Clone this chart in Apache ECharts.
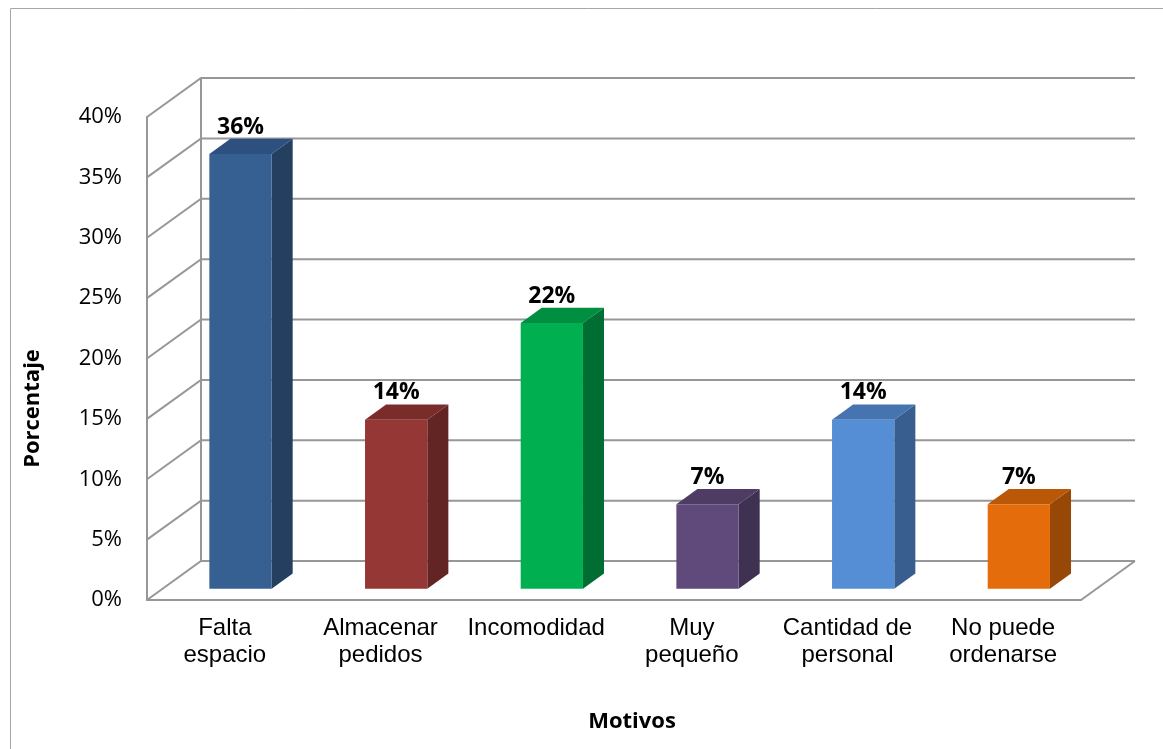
<!DOCTYPE html>
<html>
<head>
<meta charset="utf-8">
<title>Motivos</title>
<script src="https://cdn.jsdelivr.net/npm/echarts@6/dist/echarts.min.js"></script>
<style>
  html, body { margin: 0; padding: 0; background: #ffffff; }
  #chart { width: 1163px; height: 749px; }
</style>
</head>
<body>
<div id="chart"></div>
<script>
// Category names (line breaks as shown under each bar)
const categories = ['Falta\nespacio', 'Almacenar\npedidos', 'Incomodidad', 'Muy\npequeño', 'Cantidad de\npersonal', 'No puede\nordenarse'];
// Share of answers per reason, in percent
const percentages = [36, 14, 22, 7, 14, 7];
// Value-axis ticks (percent)
const yTicks = [0, 5, 10, 15, 20, 25, 30, 35, 40];

// Bar face colours: front, top, side
const frontColors = ['#376092', '#953735', '#00B050', '#604A7B', '#558ED5', '#E46C0A'];
const topColors   = ['#2D5081', '#7A2C2A', '#008E40', '#4E3C65', '#4574B0', '#BA5808'];
const sideColors  = ['#243F60', '#632523', '#006E33', '#3F3151', '#375E8F', '#974806'];

// Oblique projection: screen offset from the front plane to the back wall
const DEPTH = [54, -39];
const D0 = 0.29;    // bar front plane, as a fraction of the depth
const D1 = 0.68;    // bar back plane
const BAR_W = 0.40; // bar width, as a fraction of the category band

const WALL_COLOR = '#979797';

const chart = echarts.init(document.getElementById('chart'), null, { renderer: 'canvas' });

function renderWall(params, api) {
  const cs = params.coordSys;
  const v = api.value(1);
  const y = api.coord([0, v])[1];
  const x0 = cs.x, W = cs.width;
  const dx = DEPTH[0], dy = DEPTH[1];
  const style = { stroke: WALL_COLOR, lineWidth: 2, fill: null };
  const children = [{
    type: 'polyline',
    shape: { points: [[x0, y], [x0 + dx, y + dy], [x0 + W + dx, y + dy]] },
    style: style
  }];
  if (v === 0) {
    // right edge of the floor and the back corner of the side wall
    children.push({ type: 'line', shape: { x1: x0 + W, y1: y, x2: x0 + W + dx, y2: y + dy }, style: style });
    children.push({ type: 'line', shape: { x1: x0 + dx, y1: y + dy, x2: x0 + dx, y2: cs.y + dy }, style: style });
  }
  return { type: 'group', children: children };
}

function renderBar(params, api) {
  const i = api.value(0);
  const v = api.value(1);
  const top = api.coord([i, v]);
  const base = api.coord([i, 0]);
  const band = api.size([1, 0])[0];
  const w = band * BAR_W;
  const fx = top[0] - w / 2 + D0 * DEPTH[0];
  const fy0 = top[1] + D0 * DEPTH[1];
  const fy1 = base[1] + D0 * DEPTH[1];
  const bx = (D1 - D0) * DEPTH[0];
  const by = (D1 - D0) * DEPTH[1];
  return {
    type: 'group',
    children: [
      { type: 'polygon', shape: { points: [[fx + w, fy0], [fx + w + bx, fy0 + by], [fx + w + bx, fy1 + by], [fx + w, fy1]] },
        style: { fill: sideColors[i] } },
      { type: 'polygon', shape: { points: [[fx, fy0], [fx + w, fy0], [fx + w + bx, fy0 + by], [fx + bx, fy0 + by]] },
        style: { fill: topColors[i] } },
      { type: 'rect', shape: { x: fx, y: fy0, width: w, height: fy1 - fy0 },
        style: { fill: frontColors[i] } },
      { type: 'text', x: fx + w / 2, y: fy0 + by,
        style: { text: v + '%', fill: '#000', font: 'bold 23px "Open Sans"', align: 'center', verticalAlign: 'bottom' } }
    ]
  };
}

chart.setOption({
  animation: false,
  backgroundColor: '#ffffff',
  graphic: [{
    type: 'rect',
    shape: { x: 10.5, y: 8.5, width: 1200, height: 800 },
    style: { fill: null, stroke: '#a6a6a6', lineWidth: 1 },
    silent: true,
    z: -10
  }],
  grid: { left: 147, right: 82, top: 117, bottom: 149 },
  xAxis: {
    type: 'category',
    data: categories,
    name: 'Motivos',
    nameLocation: 'middle',
    nameGap: 111,
    nameTextStyle: { fontFamily: 'Open Sans', fontWeight: 'bold', fontSize: 22, color: '#000', padding: [0, 0, 0, 36] },
    axisLine: { show: true, lineStyle: { color: WALL_COLOR, width: 2 } },
    axisTick: { show: false },
    splitLine: { show: false },
    axisLabel: { interval: 0, fontFamily: 'Liberation Sans', fontSize: 24, lineHeight: 27, color: '#000', margin: 15 }
  },
  yAxis: {
    type: 'value',
    min: 0,
    max: 40,
    interval: 5,
    name: 'Porcentaje',
    nameLocation: 'middle',
    nameGap: 103,
    nameRotate: 90,
    nameTextStyle: { fontFamily: 'Open Sans', fontWeight: 'bold', fontSize: 22, color: '#000', padding: [0, 100, 0, 0] },
    axisLine: { show: true, lineStyle: { color: WALL_COLOR, width: 2 } },
    axisTick: { show: false },
    splitLine: { show: false },
    axisLabel: { formatter: '{value}%', fontFamily: 'Open Sans', fontSize: 22, color: '#000', margin: 25, padding: [7, 0, 0, 0] }
  },
  series: [
    {
      type: 'custom',
      name: 'walls',
      renderItem: renderWall,
      data: yTicks.map(v => [0, v]),
      encode: { x: 0, y: 1 },
      silent: true,
      z: 1
    },
    {
      type: 'custom',
      name: 'Porcentaje',
      renderItem: renderBar,
      data: percentages.map((v, i) => [i, v]),
      encode: { x: 0, y: 1 },
      z: 3
    }
  ]
});
</script>
</body>
</html>
